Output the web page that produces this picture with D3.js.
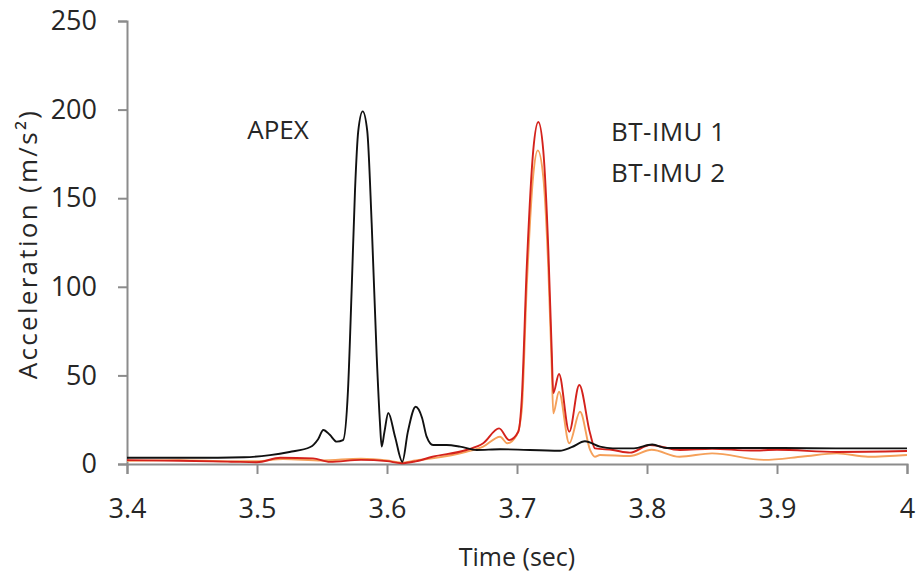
<!DOCTYPE html>
<html>
<head>
<meta charset="utf-8">
<script src="https://cdn.jsdelivr.net/npm/d3@7"></script>
<style>
  html, body { margin: 0; padding: 0; background: #fff; }
  svg text { font-family: "Open Sans", "Noto Sans", sans-serif; fill: #262626; }
</style>
</head>
<body>
<div id="chart"></div>
<script>
// time (sec) / acceleration (m/s²)
const apexTime = [3.40, 3.45, 3.49, 3.51, 3.525, 3.541, 3.547, 3.551, 3.556, 3.5613, 3.5662, 3.570, 3.5728, 3.5754, 3.5779, 3.5813, 3.5848, 3.5882, 3.5921, 3.5946, 3.5959, 3.598, 3.601, 3.6062, 3.6118, 3.616, 3.6221, 3.627, 3.6305, 3.6354, 3.6459, 3.6562, 3.669, 3.687, 3.733, 3.742, 3.7523, 3.7638, 3.7738, 3.79, 3.804, 3.815, 3.85, 3.90, 3.95, 4.00];
const apexAcc  = [3.5, 3.5, 3.8, 5.0, 6.8, 9.6, 14, 19.2, 16.5, 12.6, 13.5, 41.8, 98, 154.6, 188, 199, 188, 136, 60.5, 23, 9.8, 18, 28.8, 15.4, 1.3, 18, 32.3, 26, 15.4, 10.7, 10.7, 9.8, 7.9, 8.3, 7.5, 9.5, 12.8, 9.8, 8.8, 8.8, 11, 9, 9, 9, 8.8, 8.8];

const imu1Time = [3.40, 3.44, 3.48, 3.50, 3.518, 3.543, 3.556, 3.58, 3.60, 3.611, 3.622, 3.635, 3.661, 3.674, 3.6862, 3.694, 3.701, 3.7036, 3.7075, 3.7125, 3.7164, 3.7202, 3.7241, 3.7267, 3.7279, 3.7323, 3.7402, 3.7479, 3.7562, 3.760, 3.7738, 3.7869, 3.8023, 3.8254, 3.85, 3.88, 3.90, 3.946, 4.00];
const imu1Acc  = [2.2, 1.8, 1.3, 1.0, 3.5, 3.2, 1.2, 2.3, 1.6, 0.4, 1.5, 4.1, 7.9, 11.7, 20.1, 13.5, 18.2, 36, 111, 177, 193, 177, 121, 64, 40, 50.8, 18.2, 44.6, 17.3, 8.8, 7.9, 6.4, 10.7, 7.9, 8.6, 7.6, 8.0, 6.8, 7.3];

const imu2Time = [3.40, 3.44, 3.48, 3.50, 3.52, 3.55, 3.58, 3.60, 3.611, 3.622, 3.635, 3.661, 3.674, 3.687, 3.6925, 3.6998, 3.7036, 3.7075, 3.7125, 3.716, 3.7202, 3.7241, 3.7267, 3.7279, 3.7323, 3.7402, 3.7485, 3.7562, 3.760, 3.7638, 3.7869, 3.8036, 3.825, 3.85, 3.89, 3.92, 3.946, 3.97, 4.00];
const imu2Acc  = [1.8, 2.2, 1.5, 1.6, 2.8, 2.0, 3.0, 2.0, 0.8, 2.0, 3.2, 6.9, 9.8, 15.4, 11.7, 16.4, 30, 100, 163, 177, 162, 110, 55, 28.6, 40.8, 11.7, 29.5, 8.0, 4.1, 5.1, 4.5, 8.0, 4.1, 6.0, 2.3, 4.2, 6.0, 4.1, 5.1];

const xTicks = [3.4, 3.5, 3.6, 3.7, 3.8, 3.9, 4.0];
const yTicks = [0, 50, 100, 150, 200, 250];

const width = 916, height = 580;
const margin = { top: 21, right: 9, bottom: 116, left: 127 };
const innerW = width - margin.left - margin.right;
const innerH = height - margin.top - margin.bottom;

const svg = d3.select('#chart')
  .append('svg')
  .attr('width', width)
  .attr('height', height);

const g = svg.append('g')
  .attr('transform', `translate(${margin.left}, ${margin.top})`);

const x = d3.scaleLinear().domain([3.4, 4.0]).range([0, innerW]);
const y = d3.scaleLinear().domain([0, 250]).range([innerH, 0]);

const axisColor = '#8c8c8c';

const yAxis = g.append('g')
  .call(d3.axisLeft(y).tickValues(yTicks).tickSize(9).tickPadding(21).tickFormat(d3.format('d')));
yAxis.select('.domain').attr('stroke', axisColor).attr('stroke-width', 2);
yAxis.selectAll('.tick line').attr('stroke', axisColor).attr('stroke-width', 2);
yAxis.selectAll('.tick text').style('font-size', '27px').attr('fill', '#262626');

const xAxis = g.append('g')
  .attr('transform', `translate(0, ${innerH})`)
  .call(d3.axisBottom(x).tickValues(xTicks).tickSize(10).tickPadding(25).tickFormat(d => d === 4 ? '4' : d3.format('.1f')(d)));
xAxis.select('.domain').attr('stroke', axisColor).attr('stroke-width', 2);
xAxis.selectAll('.tick line').attr('stroke', axisColor).attr('stroke-width', 2);
xAxis.selectAll('.tick text').style('font-size', '27px').attr('fill', '#262626');

const series = [
  { time: imu2Time, acc: imu2Acc, color: '#f5a05a' },
  { time: imu1Time, acc: imu1Acc, color: '#d4221c' },
  { time: apexTime, acc: apexAcc, color: '#111111' }
];

const line = d3.line()
  .x(d => x(d[0]))
  .y(d => y(d[1]))
  .curve(d3.curveMonotoneX);

series.forEach(s => {
  const pts = s.time.map((t, i) => [t, s.acc[i]]);
  g.append('path')
    .datum(pts)
    .attr('fill', 'none')
    .attr('stroke', s.color)
    .attr('stroke-width', 1.9)
    .attr('stroke-linejoin', 'round')
    .attr('d', line);
});

// series labels
g.append('text')
  .attr('x', x(3.4925))
  .attr('y', 118)
  .style('font-size', '26px')
  .text('APEX');

g.append('text')
  .attr('x', x(3.7723))
  .attr('y', 120)
  .style('font-size', '26px')
  .style('letter-spacing', '0.5px')
  .text('BT-IMU 1');

g.append('text')
  .attr('x', x(3.7723))
  .attr('y', 161)
  .style('font-size', '26px')
  .style('letter-spacing', '0.5px')
  .text('BT-IMU 2');

// axis titles
svg.append('text')
  .attr('x', margin.left + innerW / 2)
  .attr('y', 566)
  .attr('text-anchor', 'middle')
  .style('font-size', '25px')
  .text('Time (sec)');

svg.append('text')
  .attr('transform', 'translate(37, 244) rotate(-90)')
  .attr('text-anchor', 'middle')
  .style('font-size', '26px')
  .style('letter-spacing', '2.3px')
  .text('Acceleration (m/s²)');
</script>
</body>
</html>
